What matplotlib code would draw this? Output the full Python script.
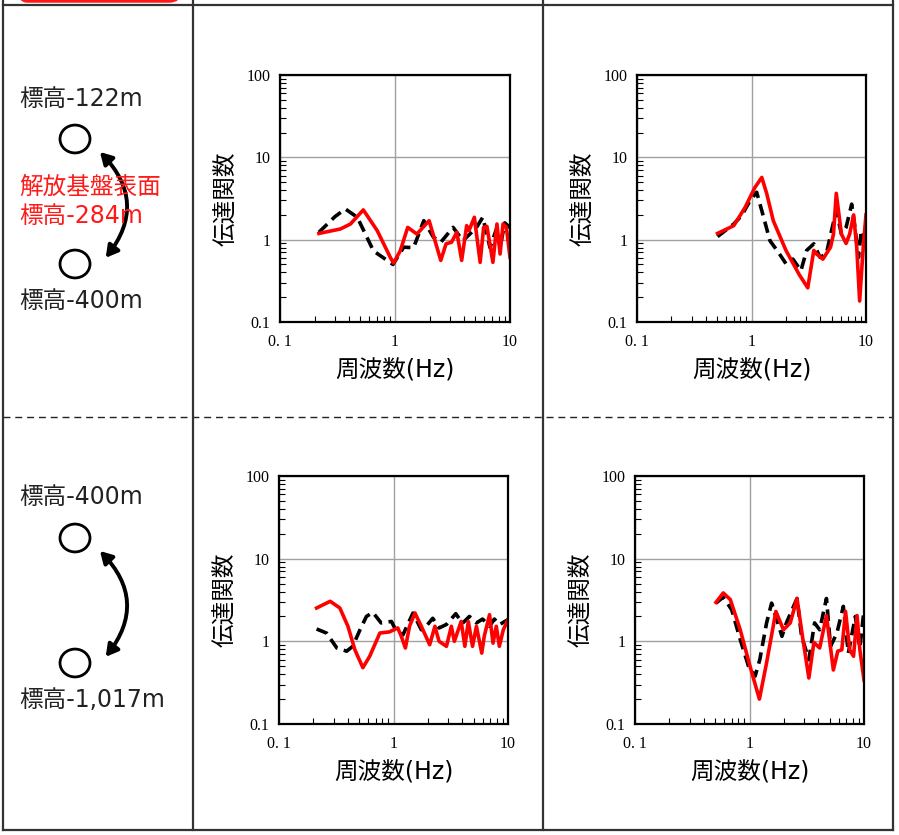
import numpy as np
import matplotlib
matplotlib.use("Agg")
import matplotlib.pyplot as plt
from matplotlib.lines import Line2D
from matplotlib.patches import Circle, FancyArrowPatch, FancyBboxPatch

# ---- data (frequency Hz, transfer function) ----
# upper row, left panel
tl_blk_f = [0.218, 0.30, 0.37, 0.47, 0.65, 0.96, 1.19, 1.45, 1.78, 2.16, 2.5, 3.2, 3.9, 5.1, 5.8, 6.7, 7.7, 8.2, 9.0, 10.0]
tl_blk_h = [1.23, 1.9, 2.36, 1.87, 0.73, 0.50, 0.81, 0.80, 1.70, 1.07, 0.93, 1.41, 0.97, 1.40, 1.87, 0.80, 1.40, 0.80, 1.60, 1.40]
tl_red_f = [0.218, 0.336, 0.41, 0.53, 0.70, 0.91, 0.97, 1.11, 1.29, 1.55, 1.98, 2.5, 2.78, 3.1, 3.45, 3.8, 4.2, 4.4, 4.9,
            5.5, 5.9, 6.3, 7.1, 7.7, 8.2, 8.7, 9.3, 10.0]
tl_red_h = [1.19, 1.35, 1.55, 2.30, 1.29, 0.61, 0.52, 0.73, 1.41, 1.17, 1.70, 0.56, 0.89, 0.93, 1.23, 0.56, 1.48, 1.29, 1.87,
            0.53, 1.41, 1.45, 0.53, 1.55, 0.67, 1.55, 1.41, 0.61]
# upper row, right panel
tr_blk_f = [0.505, 0.70, 0.82, 0.97, 1.11, 1.23, 1.45, 1.72, 2.0, 2.3, 2.7, 3.03, 3.5, 3.97, 4.5, 5.0, 5.5, 6.1, 6.7, 7.5,
            8.0, 8.6, 9.1, 10.0]
tr_blk_h = [1.09, 1.55, 1.96, 2.97, 3.76, 2.25, 0.97, 0.70, 0.51, 0.58, 0.42, 0.74, 0.89, 0.61, 0.67, 1.29, 2.25, 1.17, 1.41,
            2.70, 1.41, 0.61, 1.29, 0.81]
tr_red_f = [0.505, 0.70, 0.88, 1.07, 1.23, 1.36, 1.55, 2.0, 2.6, 3.1, 3.5, 3.7, 4.2, 4.9, 5.2, 5.5, 6.1, 6.7, 7.2, 7.8,
            8.3, 8.8, 9.5, 10.0]
tr_red_h = [1.19, 1.48, 2.47, 4.3, 5.7, 3.6, 1.70, 0.74, 0.38, 0.26, 0.74, 0.67, 0.58, 0.81, 1.17, 3.65, 1.17, 0.90, 1.17, 2.0,
            0.81, 0.18, 0.88, 2.0]
# lower row, left panel
bl_blk_f = [0.213, 0.26, 0.32, 0.39, 0.44, 0.51, 0.58, 0.66, 0.78, 0.96, 1.06, 1.21, 1.48, 1.75, 1.93, 2.2, 2.5, 2.9, 3.5,
            4.0, 4.6, 5.3, 6.0, 6.9, 7.6, 8.4, 10.0]
bl_blk_h = [1.41, 1.26, 0.83, 0.76, 0.87, 1.38, 2.0, 2.24, 1.67, 1.74, 1.32, 1.20, 2.2, 1.38, 1.52, 1.90, 1.45, 1.60, 2.16,
            1.65, 2.0, 1.67, 1.86, 1.52, 1.86, 1.59, 1.83]
bl_red_f = [0.213, 0.28, 0.34, 0.40, 0.46, 0.54, 0.62, 0.76, 0.92, 1.09, 1.17, 1.27, 1.38, 1.54, 1.75, 2.07, 2.3, 2.5, 2.9,
            3.2, 3.4, 3.9, 4.2, 4.5, 4.9, 5.3, 5.9, 6.2, 6.9, 7.4, 7.9, 8.4, 9.1, 10.0]
bl_red_h = [2.53, 3.05, 2.53, 1.52, 0.79, 0.48, 0.66, 1.26, 1.30, 1.45, 1.15, 0.83, 1.52, 2.2, 1.52, 0.91, 1.52, 1.0, 0.87,
            1.52, 1.0, 1.74, 0.87, 1.74, 0.87, 1.52, 0.72, 1.15, 2.1, 0.95, 1.52, 0.87, 1.38, 1.83]
# lower row, right panel
br_blk_f = [0.51, 0.59, 0.70, 0.83, 0.98, 1.12, 1.23, 1.41, 1.56, 1.73, 1.92, 2.1, 2.6, 2.85, 3.3, 3.7, 4.1, 4.7, 5.1, 5.8,
            6.6, 7.3, 8.4, 9.2, 10.0]
br_blk_h = [2.9, 3.43, 2.4, 1.05, 0.50, 0.38, 0.60, 1.67, 2.9, 1.83, 1.15, 1.67, 3.3, 1.15, 0.60, 1.67, 1.38, 3.3, 0.87, 1.26,
            2.65, 0.72, 2.0, 0.83, 2.4]
br_red_f = [0.51, 0.59, 0.68, 0.83, 1.01, 1.22, 1.41, 1.70, 1.98, 2.27, 2.6, 2.9, 3.3, 3.65, 4.1, 4.7, 5.4, 5.9, 6.4, 6.9,
            7.5, 8.1, 8.7, 9.2, 10.0]
br_red_h = [2.96, 3.85, 3.2, 1.38, 0.50, 0.20, 0.55, 2.3, 1.38, 1.67, 3.3, 1.15, 0.36, 0.97, 0.83, 2.05, 0.45, 0.76, 0.79, 2.3,
            0.79, 0.66, 2.05, 0.79, 0.34]

W, H = 899, 835
cjk = ['DejaVu Sans', 'Noto Sans CJK JP']
plt.rcParams['font.family'] = cjk

fig = plt.figure(figsize=(W / 100, H / 100), dpi=100)


def fx(px):
    return px / W


def fy(py):
    return 1 - py / H


def hline(y, x0, x1, **kw):
    fig.add_artist(Line2D([fx(x0), fx(x1)], [fy(y), fy(y)], transform=fig.transFigure, **kw))


def vline(x, y0, y1, **kw):
    fig.add_artist(Line2D([fx(x), fx(x)], [fy(y0), fy(y1)], transform=fig.transFigure, **kw))


# table frame
grid_c = '#333333'
hline(5, 3, 893, color=grid_c, lw=1.6)
hline(830, 3, 893, color=grid_c, lw=1.6)
hline(417, 3, 893, color='#222222', lw=1.0, dashes=(5, 3.5))
for xv in (3, 193, 543, 893):
    vline(xv, 0, 830, color=grid_c, lw=1.6)

# red rounded box (only the lower edge is visible)
fig.add_artist(FancyBboxPatch((fx(16), fy(1)), fx(180) - fx(16), 0.05,
                              boxstyle='round,pad=0,rounding_size=0.012',
                              transform=fig.transFigure, fc='none', ec='#ff1a1a', lw=2.5))


def panel(x0, x1, y0, y1, bf, bh, rf, rh):
    ax = fig.add_axes([fx(x0), fy(y1), fx(x1) - fx(x0), fy(y0) - fy(y1)])
    ax.set_xscale('log')
    ax.set_yscale('log')
    ax.set_xlim(0.1, 10)
    ax.set_ylim(0.1, 100)
    ax.grid(True, which='major', color='#a0a0a0', lw=1.0)
    ax.plot(bf, bh, color='black', lw=2.6, dashes=(3.2, 1.8))
    ax.plot(rf, rh, color='#ff0000', lw=2.6)
    ax.set_xticks([0.1, 1, 10])
    ax.set_xticklabels(['0. 1', '1', '10'], family='Liberation Serif', fontsize=11.5)
    ax.set_yticks([0.1, 1, 10, 100])
    ax.set_yticklabels(['0.1', '1', '10', '100'], family='Liberation Serif', fontsize=11.5)
    ax.tick_params(which='both', direction='in', color='black')
    ax.tick_params(which='major', length=0, pad=7)
    ax.tick_params(which='minor', length=4, width=0.8)
    ax.tick_params(axis='x', which='major', pad=9)
    for s in ax.spines.values():
        s.set_linewidth(1.6)
    ax.set_ylabel('伝達関数', fontsize=17, family=['Noto Sans CJK JP'], labelpad=6)
    ax.set_xlabel('周波数(Hz)', fontsize=17, family=cjk, labelpad=6)
    return ax


panel(280, 510, 75, 322, tl_blk_f, tl_blk_h, tl_red_f, tl_red_h)
panel(637, 866, 75, 322, tr_blk_f, tr_blk_h, tr_red_f, tr_red_h)
panel(279, 508, 476, 724, bl_blk_f, bl_blk_h, bl_red_f, bl_red_h)
panel(635, 864, 476, 724, br_blk_f, br_blk_h, br_red_f, br_red_h)

# left column: elevation sketches
def label(x, y, s, color='#222222'):
    fig.text(fx(x), fy(y), s, fontsize=17, color=color, ha='left', va='center', family=cjk)


def sketch(top_y, bot_y, arr_top, arr_bot):
    for cy in (top_y, bot_y):
        fig.add_artist(Circle((fx(75), fy(cy)), fx(15), transform=fig.transFigure,
                              fc='none', ec='black', lw=2.0))
    fig.add_artist(FancyArrowPatch((fx(arr_top[0]), fy(arr_top[1])), (fx(arr_bot[0]), fy(arr_bot[1])),
                                   transform=fig.transFigure, connectionstyle='arc3,rad=-0.45',
                                   arrowstyle='<|-|>,head_length=7,head_width=4', color='black', lw=2.8))


label(19, 99, '標高-122m')
label(19, 187, '解放基盤表面', color='#ff1a1a')
label(19, 216, '標高-284m', color='#ff1a1a')
label(19, 301, '標高-400m')
sketch(139, 264, (98, 150), (104, 260))

label(19, 497, '標高-400m')
label(19, 700, '標高-1,017m')
sketch(538, 663, (98, 549), (104, 659))

fig.savefig('out.png', dpi=100)
